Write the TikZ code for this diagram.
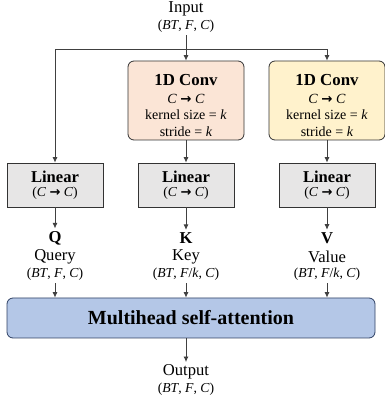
\documentclass[tikz,border=0pt]{standalone}
\usepackage{fontspec}
\setmainfont{Liberation Serif}
\newfontfamily\arrowfont[Scale=0.95]{DejaVu Sans}
\usetikzlibrary{arrows.meta, positioning}
\definecolor{convpink}{RGB}{251, 229, 214}
\definecolor{convyellow}{RGB}{255, 242, 204}
\definecolor{lingray}{RGB}{231, 230, 230}
\definecolor{attblue}{RGB}{180, 199, 231}
\definecolor{attedge}{RGB}{47, 65, 100}
\definecolor{wire}{RGB}{64, 64, 64}

\newcommand{\ctoc}{\textit{C} {\arrowfont\bfseries →} \textit{C}}
\newcommand{\bigfont}{\fontsize{16.6}{18}\selectfont}
\newcommand{\smallfont}{\fontsize{13.7}{15}\selectfont}
\newcommand{\dimfull}{(\textit{BT}, \textit{F}, \textit{C})}
\newcommand{\dimhalf}{(\textit{BT}, \textit{F}/\textit{k}, \textit{C})}
\newcommand{\convtext}{{\fontsize{16.8}{18}\selectfont\bfseries 1D Conv}\\[1.5pt] \ctoc\\ kernel size = \textit{k}\\ stride = \textit{k}}
\newcommand{\lintext}{{\bigfont\bfseries Linear}\\[2.5pt] {\smallfont(\ctoc)}}

\begin{document}
\begin{tikzpicture}[x=1pt, y=1pt,
    arr/.style={draw=wire, line width=0.8pt, -{Latex[length=5.5pt, width=5pt]}},
    wirelink/.style={draw=wire, line width=0.8pt},
    lbl/.style={inner xsep=0pt, inner ysep=2.5pt, font=\bigfont},
    symlbl/.style={inner xsep=0pt, inner ysep=2.5pt, font=\bigfont\bfseries},
    dimlbl/.style={inner xsep=0pt, inner ysep=3pt, font=\smallfont},
    convbox/.style={draw=black!80, line width=0.8pt, rounded corners=6pt, minimum width=116pt, minimum height=79pt},
    convtxt/.style={inner sep=0pt, align=center, font=\fontsize{14}{16.3}\selectfont},
    linbox/.style={draw=black!80, line width=0.8pt, fill=lingray, minimum width=96pt, minimum height=44pt, align=center, inner sep=0pt},
    attbox/.style={draw=attedge, line width=0.8pt, fill=attblue, rounded corners=6pt, minimum width=368pt, minimum height=40pt, font=\fontsize{20}{22}\selectfont\bfseries}
]
\useasboundingbox (0,0) rectangle (384,407);

% input
\node[lbl] (inlbl) at (186,398) {Input};
\node[dimlbl] (indim) at (186,381) {\dimfull};
\coordinate (split) at (186,358);
\coordinate (qturn) at (55,358);
\coordinate (vturn) at (327,358);

% 1D conv
\node[convbox, fill=convpink] (convk) at (186,306.5) {};
\node[convtxt] (convktxt) at ([yshift=-5pt]convk.center) {\convtext};
\node[convbox, fill=convyellow] (convv) at (327,306.5) {};
\node[convtxt] (convvtxt) at ([yshift=-5pt]convv.center) {\convtext};

% linear
\node[linbox] (linq) at (55,222) {\lintext};
\node[linbox] (link) at (186,222) {\lintext};
\node[linbox] (linv) at (327,222) {\lintext};

\draw[wirelink] (indim) -- (split);
\draw[arr] (split) -- (qturn) -- (linq);
\draw[arr] (split) -- (convk);
\draw[arr] (split) -- (vturn) -- (convv);
\draw[arr] (convk) -- (link);
\draw[arr] (convv) -- (linv);

% Q K V
\node[symlbl] (qsym) at (55,169) {Q};
\node[lbl] (qname) at (55,150) {Query};
\node[dimlbl] (qdim) at (55,133) {\dimfull};
\node[symlbl] (ksym) at (186,169) {K};
\node[lbl] (kname) at (186,150) {Key};
\node[dimlbl] (kdim) at (186,133) {\dimhalf};
\node[symlbl] (vsym) at (327,169) {V};
\node[lbl] (vname) at (327,150) {Value};
\node[dimlbl] (vdim) at (327,133) {\dimhalf};

\draw[arr] (linq) -- (qsym);
\draw[arr] (link) -- (ksym);
\draw[arr] (linv) -- (vsym);

% attention
\node[attbox] (mhsa) at (191,89) {Multihead self-attention};
\draw[arr] (qdim) -- (qdim |- mhsa.north);
\draw[arr] (kdim) -- (kdim |- mhsa.north);
\draw[arr] (vdim) -- (vdim |- mhsa.north);

% output
\node[lbl] (outlbl) at (186,35) {Output};
\node[dimlbl] (outdim) at (186,18) {\dimfull};
\draw[arr] (mhsa.south -| outlbl) -- (outlbl);
\end{tikzpicture}
\end{document}
